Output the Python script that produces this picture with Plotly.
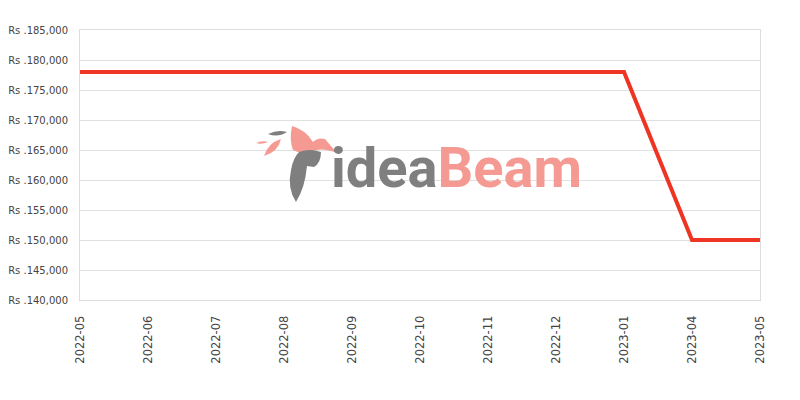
import plotly.graph_objects as go

months = ["2022-05", "2022-06", "2022-07", "2022-08", "2022-09", "2022-10",
          "2022-11", "2022-12", "2023-01", "2023-04", "2023-05"]
prices = [178000, 178000, 178000, 178000, 178000, 178000,
          178000, 178000, 178000, 150000, 150000]

fig = go.Figure()
fig.add_trace(go.Scatter(
    x=months, y=prices, mode="lines",
    line=dict(color="#EE3524", width=4),
    hoverinfo="x+y",
))

# --- watermark (decorative) ---
PL, PR, PT, PB = 80, 760, 30, 300  # plot area in screen pixels


def P(sx, sy):
    return f"{(sx - PL) / (PR - PL):.4f},{(PB - sy) / (PB - PT):.4f}"


def path(*segs):
    return " ".join(segs)


SALMON = "#F59A92"
GREY = "#7F7F7F"
fig.add_annotation(
    x=(331 - PL) / (PR - PL), y=(PB - 168) / (PB - PT), xref="paper", yref="paper",
    text=f"<b><span style='color:{GREY}'>idea</span><span style='color:{SALMON}'>Beam</span></b>",
    showarrow=False, xanchor="left", yanchor="middle",
    borderpad=0, borderwidth=0,
    font=dict(family="Roboto", size=56, color=GREY))

shapes = [
    (SALMON, path(f"M {P(292,126)}", f"Q {P(306,130)} {P(313,142)}", f"Q {P(318,137)} {P(325,139)}",
                  f"L {P(337,153)}", f"Q {P(325,148)} {P(316,150)}", f"Q {P(302,155)} {P(293,150)}",
                  f"Q {P(289,140)} {P(292,126)} Z")),
    (GREY, path(f"M {P(299,152)}", f"Q {P(310,148)} {P(321,152)}", f"Q {P(321,163)} {P(314,167)}",
                f"L {P(307,166)}", f"Q {P(305,188)} {P(296,202)}", f"Q {P(287,188)} {P(291,170)}",
                f"Q {P(293,158)} {P(299,152)} Z")),
    (GREY, path(f"M {P(268,134)}", f"Q {P(278,129)} {P(287,132)}", f"Q {P(278,138)} {P(268,134)} Z")),
    (SALMON, path(f"M {P(256,143)}", f"Q {P(262,140)} {P(268,142)}", f"Q {P(262,145)} {P(256,143)} Z")),
    (SALMON, path(f"M {P(264,156)}", f"Q {P(268,143)} {P(281,139)}", f"Q {P(278,152)} {P(264,156)} Z")),
]
for color, p in shapes:
    fig.add_shape(type="path", xref="paper", yref="paper", path=p,
                  fillcolor=color, line=dict(width=0), layer="above")

# The page body has an 8px margin, so the figure is offset by 8px.
OFF = 8
fig.update_layout(
    width=800, height=400,
    margin=dict(l=PL - OFF, r=800 - PR + OFF, t=PT - OFF, b=400 - PB + OFF, autoexpand=False),
    paper_bgcolor="white", plot_bgcolor="white",
    showlegend=False,
    font=dict(family="DejaVu Sans", size=11, color="#444444"),
)
fig.update_xaxes(
    type="category", range=[0, len(months) - 1],
    tickangle=-90, showgrid=False, automargin=False,
    showline=True, linecolor="#DDDDDD", linewidth=1, mirror=True,
    ticks="", ticklabelstandoff=10,
    tickfont=dict(size=11.5, color="#444444"),
)
fig.update_yaxes(
    range=[140000, 185000], dtick=5000, tick0=140000,
    tickprefix="Rs .", tickformat=",", automargin=False,
    showgrid=True, gridcolor="#E0E0E0", gridwidth=1,
    showline=True, linecolor="#DDDDDD", linewidth=1, mirror=True,
    zeroline=False, ticks="", ticklabelstandoff=9,
    tickfont=dict(size=10, color="#444444"),
)

fig.write_html("out.html")
